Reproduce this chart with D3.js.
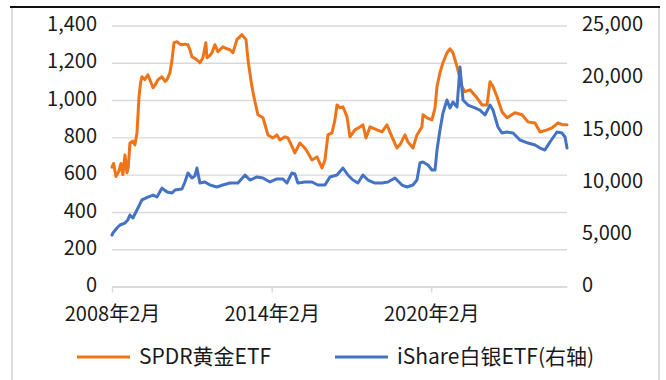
<!DOCTYPE html>
<html>
<head>
<meta charset="utf-8">
<script src="https://cdn.jsdelivr.net/npm/d3@7/dist/d3.min.js"></script>
<style>
  html, body { margin: 0; padding: 0; background: #fff; }
  svg { display: block; font-family: "Noto Sans CJK SC", "Noto Sans", sans-serif; }
</style>
</head>
<body>
<svg id="chart" width="666" height="380"></svg>
<script>
// SPDR gold ETF holdings (tonnes, left axis)
const goldDates = ["2008-02-01","2008-02-24","2008-03-26","2008-05-07","2008-06-03","2008-06-30","2008-07-28","2008-08-24","2008-09-12","2008-10-04","2008-11-14","2008-12-12","2009-01-09","2009-02-06","2009-02-26","2009-03-18","2009-04-25","2009-06-08","2009-08-17","2009-09-13","2009-10-24","2009-12-19","2010-01-29","2010-02-25","2010-04-07","2010-05-05","2010-06-01","2010-07-12","2010-08-21","2010-09-19","2010-10-29","2010-12-10","2011-01-06","2011-02-03","2011-04-12","2011-05-23","2011-07-03","2011-08-13","2011-08-27","2011-10-08","2011-11-04","2011-12-15","2012-01-25","2012-04-03","2012-05-28","2012-07-08","2012-08-18","2012-10-12","2012-12-20","2013-02-14","2013-03-13","2013-05-06","2013-06-17","2013-07-28","2013-10-05","2013-12-12","2014-02-19","2014-04-14","2014-05-25","2014-08-01","2014-09-11","2014-10-09","2014-12-17","2015-02-24","2015-05-03","2015-06-13","2015-08-08","2015-10-16","2015-12-24","2016-02-03","2016-03-15","2016-05-09","2016-06-19","2016-07-17","2016-08-27","2016-10-07","2016-12-01","2017-01-11","2017-03-20","2017-05-28","2017-07-08","2017-08-19","2017-10-13","2018-01-17","2018-03-27","2018-06-03","2018-08-11","2018-10-18","2018-11-28","2019-02-05","2019-03-18","2019-05-26","2019-07-20","2019-09-27","2019-10-10","2019-12-04","2020-02-11","2020-03-24","2020-04-20","2020-05-31","2020-07-11","2020-09-04","2020-10-15","2020-11-25","2021-01-20","2021-03-29","2021-05-09","2021-07-17","2021-10-21","2021-12-29","2022-03-08","2022-04-18","2022-05-29","2022-07-23","2022-09-29","2022-12-07","2023-03-27","2023-07-01","2023-09-21","2023-12-27","2024-03-05","2024-06-09","2024-08-16","2024-11-06","2025-01-14","2025-03-10"];
const goldValues = [640,660,590,620,660,600,706,610,640,770,780,760,824,1017,1090,1125,1110,1136,1066,1080,1109,1125,1100,1109,1147,1216,1308,1313,1300,1297,1300,1297,1270,1232,1216,1200,1227,1308,1227,1240,1254,1297,1259,1286,1275,1270,1254,1324,1351,1324,1216,1072,991,921,905,813,797,813,786,803,797,776,717,770,743,717,679,695,636,679,813,824,894,974,958,964,911,803,840,856,867,797,856,840,829,867,803,743,760,813,776,743,813,856,921,905,894,958,1072,1147,1200,1254,1275,1254,1179,1072,1045,1055,1012,974,974,1098,1072,1018,937,905,932,921,883,877,829,840,851,877,867,867];

// iShares silver ETF holdings (tonnes, right axis)
const silverDates = ["2008-02-01","2008-02-14","2008-04-09","2008-05-21","2008-07-28","2008-09-06","2008-10-04","2008-11-14","2009-01-09","2009-03-18","2009-06-08","2009-08-17","2009-10-10","2009-12-19","2010-02-25","2010-05-05","2010-06-15","2010-09-19","2010-10-29","2010-12-10","2011-02-03","2011-03-15","2011-04-12","2011-05-23","2011-07-30","2011-10-08","2012-01-11","2012-04-03","2012-07-08","2012-10-26","2013-02-01","2013-04-09","2013-07-14","2013-10-05","2014-01-09","2014-04-14","2014-07-05","2014-08-29","2014-11-06","2014-12-17","2015-01-27","2015-05-03","2015-08-08","2015-10-29","2016-02-03","2016-04-11","2016-07-17","2016-10-07","2016-12-14","2017-02-21","2017-04-30","2017-07-08","2017-09-15","2017-12-20","2018-03-27","2018-06-17","2018-09-21","2018-12-26","2019-03-05","2019-05-26","2019-07-20","2019-08-30","2019-10-10","2019-12-18","2020-02-11","2020-03-24","2020-04-20","2020-05-31","2020-07-11","2020-09-04","2020-10-15","2020-11-25","2021-01-20","2021-03-02","2021-04-12","2021-06-19","2021-09-23","2021-12-01","2022-02-08","2022-04-18","2022-05-29","2022-08-05","2022-09-29","2022-12-07","2023-02-28","2023-06-03","2023-09-21","2023-12-27","2024-03-05","2024-05-11","2024-07-19","2024-10-23","2025-01-01","2025-02-11","2025-03-10"];
const silverValues = [4930,5125,5600,5890,6080,6400,6850,6560,7330,8290,8570,8760,8570,9430,9050,8950,9240,9340,10010,10870,10390,10600,11350,9910,10010,9720,9530,9720,9910,9910,10680,10200,10490,10390,10010,10300,10300,9910,10870,10780,9910,10010,10010,9720,9720,10490,10680,11350,10680,10200,9910,10680,10200,9910,9910,10010,10390,9720,9530,9720,10200,11830,11930,11640,11160,11160,13070,14990,16620,17860,17100,17670,17190,21020,17860,17380,17100,16900,16430,17380,16900,15280,14700,14800,14700,14030,13740,13550,13260,13070,13840,14800,14700,14320,13260];

const leftTicks = [0, 200, 400, 600, 800, 1000, 1200, 1400];
const rightTicks = [0, 5000, 10000, 15000, 20000, 25000];
const dateTicks = ["2008-02-01", "2014-02-01", "2020-02-01"];
const seriesNames = ["SPDR黄金ETF", "iShare白银ETF(右轴)"];
const seriesColors = ["#EE7419", "#4472C4"];

const parse = d3.timeParse("%Y-%m-%d");
const gold = goldDates.map((d, i) => ({ date: parse(d), value: goldValues[i] }));
const silver = silverDates.map((d, i) => ({ date: parse(d), value: silverValues[i] }));

const svg = d3.select("#chart");
const plot = { left: 112, right: 567, top: 25.5, bottom: 286.5 };

const x = d3.scaleTime()
  .domain([parse("2008-02-01"), parse("2025-03-10")])
  .range([plot.left, plot.right]);
const yL = d3.scaleLinear().domain([0, 1400]).range([plot.bottom, plot.top]);
const yR = d3.scaleLinear().domain([0, 25000]).range([plot.bottom, plot.top]);

// outer frame: dark rule on top, light sides
svg.append("line").attr("x1", 10).attr("x2", 660).attr("y1", 7).attr("y2", 7)
  .attr("stroke", "#111").attr("stroke-width", 2);
svg.append("line").attr("x1", 12).attr("x2", 12).attr("y1", 8).attr("y2", 380)
  .attr("stroke", "#cfcfcf").attr("stroke-width", 1.5);
svg.append("line").attr("x1", 659).attr("x2", 659).attr("y1", 8).attr("y2", 380)
  .attr("stroke", "#cfcfcf").attr("stroke-width", 1.5);

const fontSize = "20px";
const fontFamily = "'Noto Sans CJK SC', sans-serif";

// left axis with horizontal gridlines
const gL = svg.append("g").attr("transform", `translate(${plot.left},0)`)
  .call(d3.axisLeft(yL).tickValues(leftTicks).tickFormat(d3.format(","))
    .tickSizeInner(-(plot.right - plot.left)).tickSizeOuter(0).tickPadding(15));
gL.select(".domain").remove();
gL.selectAll(".tick line").attr("stroke", "#d9d9d9").attr("stroke-width", 1.4);
gL.selectAll(".tick text").attr("fill", "#1a1a1a").attr("dy", "0.26em")
  .style("font-size", fontSize).style("font-family", fontFamily);

// right axis (labels only)
const gR = svg.append("g").attr("transform", `translate(${plot.right},0)`)
  .call(d3.axisRight(yR).tickValues(rightTicks).tickFormat(d3.format(","))
    .tickSize(0).tickPadding(15));
gR.select(".domain").remove();
gR.selectAll(".tick text").attr("fill", "#1a1a1a").attr("dy", "0.26em")
  .style("font-size", fontSize).style("font-family", fontFamily);

// bottom date axis
const gX = svg.append("g").attr("transform", `translate(0,${plot.bottom})`)
  .call(d3.axisBottom(x).tickValues(dateTicks.map(parse))
    .tickFormat(d3.timeFormat("%Y年%-m月")).tickSizeInner(6).tickSizeOuter(0).tickPadding(14));
gX.select(".domain").attr("stroke", "#d9d9d9").attr("stroke-width", 1.4);
gX.selectAll(".tick line").attr("stroke", "#d9d9d9").attr("stroke-width", 1.4);
gX.selectAll(".tick text").attr("fill", "#1a1a1a").style("font-size", fontSize)
  .style("font-family", fontFamily);

// series lines
const lineL = d3.line().x(d => x(d.date)).y(d => yL(d.value));
const lineR = d3.line().x(d => x(d.date)).y(d => yR(d.value));

svg.append("path").datum(gold).attr("d", lineL)
  .attr("fill", "none").attr("stroke", seriesColors[0]).attr("stroke-width", 3)
  .attr("stroke-linejoin", "round").attr("stroke-linecap", "round");
svg.append("path").datum(silver).attr("d", lineR)
  .attr("fill", "none").attr("stroke", seriesColors[1]).attr("stroke-width", 3)
  .attr("stroke-linejoin", "round").attr("stroke-linecap", "round");

// legend
const legendX = [77, 335];
const legend = svg.append("g").selectAll("g").data(seriesNames).join("g")
  .attr("transform", (d, i) => `translate(${legendX[i]},357)`);
legend.append("line").attr("x1", 0).attr("x2", 53).attr("y1", 0).attr("y2", 0)
  .attr("stroke", (d, i) => seriesColors[i]).attr("stroke-width", 3);
legend.append("text").attr("x", 62).attr("y", 7)
  .attr("fill", "#1a1a1a").style("font-size", "21px").style("font-family", fontFamily)
  .text(d => d);
</script>
</body>
</html>
